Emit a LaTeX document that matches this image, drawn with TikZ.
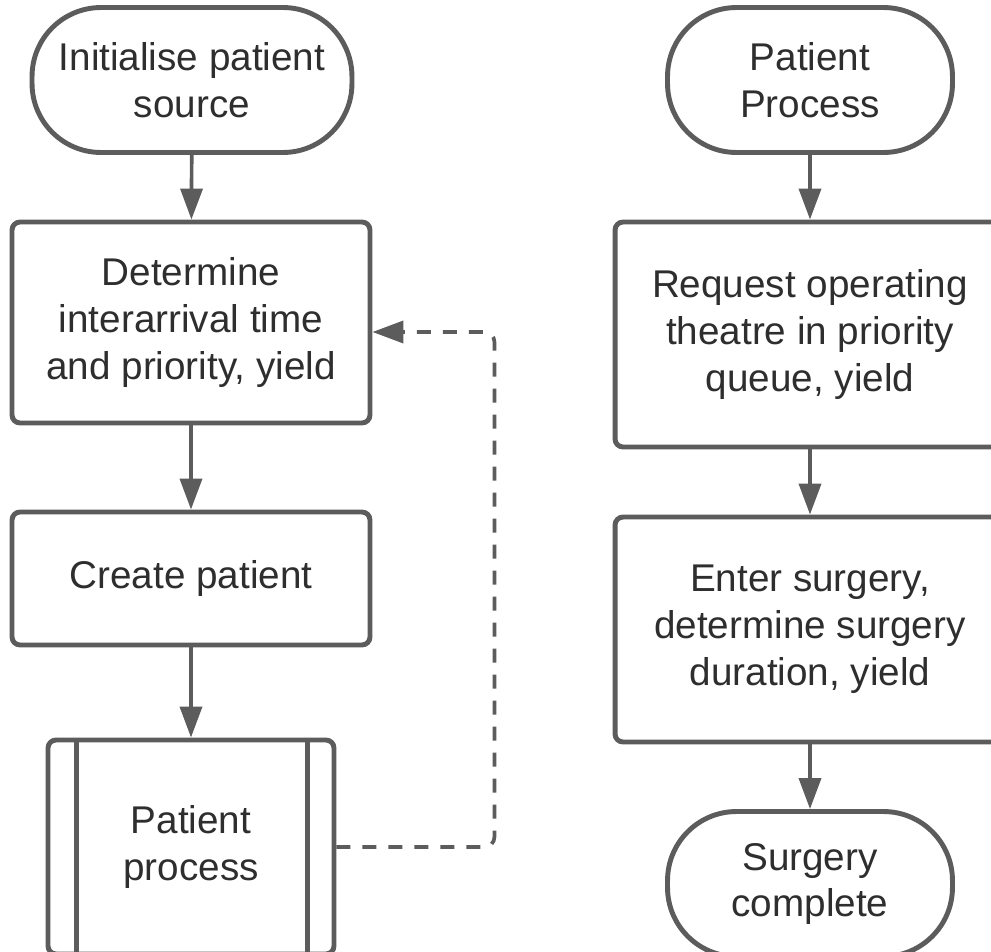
\documentclass[tikz,border=0pt]{standalone}
\usepackage{fontspec}
\setmainfont{Liberation Sans}
\usetikzlibrary{arrows.meta}
\definecolor{linegray}{HTML}{5C5C5C}
\definecolor{textgray}{HTML}{2E2E2E}
\begin{document}
\begin{tikzpicture}[x=0.02cm,y=-0.02cm,
  box/.style={draw=linegray,line width=2.8pt,fill=white,text=textgray,align=center,
    font=\fontsize{22}{26.7}\selectfont,inner sep=0pt},
  terminal/.style={box,rounded corners=1.38cm,minimum width=#1,minimum height=2.9cm},
  process/.style={box,rounded corners=0.16cm,minimum width=#1},
  flow/.style={draw=linegray,line width=2.1pt,-{Triangle[length=0.62cm,width=0.44cm]}},
  loopback/.style={flow,dash pattern=on 0.28cm off 0.24cm,rounded corners=0.2cm}]
\useasboundingbox (0,0) rectangle (991,951);
% Patient source (left)
\node[terminal=6.4cm] (init) at (192,80) {Initialise patient\\source};
\node[process=7.16cm,minimum height=4.02cm] (det) at (191,322.5) {Determine\\interarrival time\\and priority, yield};
\node[process=7.16cm,minimum height=2.66cm] (create) at (191,578.5) {Create patient};
\node[process=5.72cm,minimum height=4.28cm] (pp) at (191,847) {Patient\\process};
% side bars of the subprocess
\draw[linegray,line width=2.4pt] ([xshift=0.62cm]pp.north west) -- ([xshift=0.62cm]pp.south west);
\draw[linegray,line width=2.4pt] ([xshift=-0.58cm]pp.north east) -- ([xshift=-0.58cm]pp.south east);
% arrows left
\draw[flow] (init) -- (det);
\draw[flow] (det) -- (create);
\draw[flow] (create) -- (pp);
% loop back
\draw[loopback] (pp.east) -- ++(158,0) |- ([yshift=-0.19cm]det.east);
% Patient process (right)
\node[terminal=5.7cm] (start) at (810,80) {Patient\\Process};
\node[process=7.8cm,minimum height=4.5cm] (req) at (810,334.5) {Request operating\\theatre in priority\\queue, yield};
\node[process=7.8cm,minimum height=4.5cm] (enter) at (810,629.5) {Enter surgery,\\determine surgery\\duration, yield};
\node[terminal=5.7cm] (done) at (810,884) {Surgery\\complete};
% arrows right
\draw[flow] (start) -- (req);
\draw[flow] (req) -- (enter);
\draw[flow] (enter) -- (done);
\end{tikzpicture}
\end{document}
